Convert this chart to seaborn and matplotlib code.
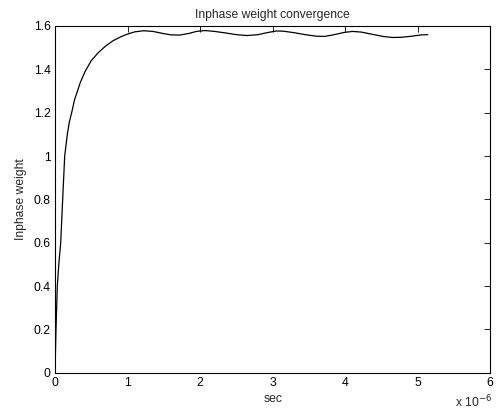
import numpy as np
import pandas as pd
import matplotlib
matplotlib.use("Agg")
import matplotlib.pyplot as plt
import seaborn as sns
from matplotlib.ticker import FuncFormatter

# time in microseconds
time_us = [0, 0.014, 0.032, 0.055, 0.079, 0.106, 0.134, 0.17, 0.20, 0.23, 0.27, 0.35,
           0.415, 0.50, 0.60, 0.70, 0.80, 0.90, 0.97, 1.04, 1.10, 1.22, 1.35, 1.48,
           1.60, 1.72, 1.85, 1.95, 2.07, 2.20, 2.35, 2.50, 2.65, 2.80, 2.92, 3.05,
           3.15, 3.30, 3.45, 3.60, 3.72, 3.85, 3.98, 4.10, 4.22, 4.37, 4.52, 4.65,
           4.78, 4.92, 5.05, 5.14]
weight = [0, 0.2, 0.4, 0.51, 0.6, 0.8, 1.0, 1.1, 1.16, 1.2, 1.26, 1.34,
          1.39, 1.44, 1.478, 1.508, 1.532, 1.549, 1.559, 1.567, 1.573, 1.578, 1.575, 1.566,
          1.559, 1.558, 1.566, 1.575, 1.579, 1.575, 1.568, 1.560, 1.556, 1.560, 1.569, 1.577,
          1.576, 1.569, 1.560, 1.553, 1.552, 1.560, 1.570, 1.575, 1.572, 1.562, 1.552, 1.547,
          1.548, 1.553, 1.559, 1.560]

df = pd.DataFrame({"sec": np.array(time_us) * 1e-6, "w": weight})

sns.set_style("white")
plt.rcParams["font.family"] = ["Liberation Sans", "DejaVu Sans"]
fs = 8.7

fig = plt.figure(figsize=(4.98, 4.12), dpi=100)
ax = fig.add_axes([0.1104, 0.0954, 0.874, 0.8415])

sns.lineplot(data=df, x="sec", y="w", ax=ax, color="black", linewidth=0.9,
             sort=False, estimator=None)

ax.set_xlim(0, 6e-6)
ax.set_ylim(0, 1.6)
ax.set_xticks(np.arange(0, 7) * 1e-6)
ax.set_yticks(np.arange(0, 1.61, 0.2))
ax.xaxis.set_major_formatter(FuncFormatter(lambda v, p: f"{v * 1e6:g}"))
ax.yaxis.set_major_formatter(FuncFormatter(lambda v, p: f"{v:g}"))
ax.tick_params(direction="in", length=4, width=0.6, labelsize=fs, top=True, right=True,
               colors="black", pad=3)
for s in ax.spines.values():
    s.set_color("black")
    s.set_linewidth(0.8)

ax.set_xlabel("sec", fontsize=fs, labelpad=3)
ax.set_ylabel("Inphase weight", fontsize=fs, labelpad=5)
ax.set_title("Inphase weight convergence", fontsize=fs, pad=6)
ax.text(1.005, -0.062, "x 10$^{-6}$", transform=ax.transAxes, ha="right", va="top", fontsize=fs)

fig.savefig("out.png", dpi=100)
